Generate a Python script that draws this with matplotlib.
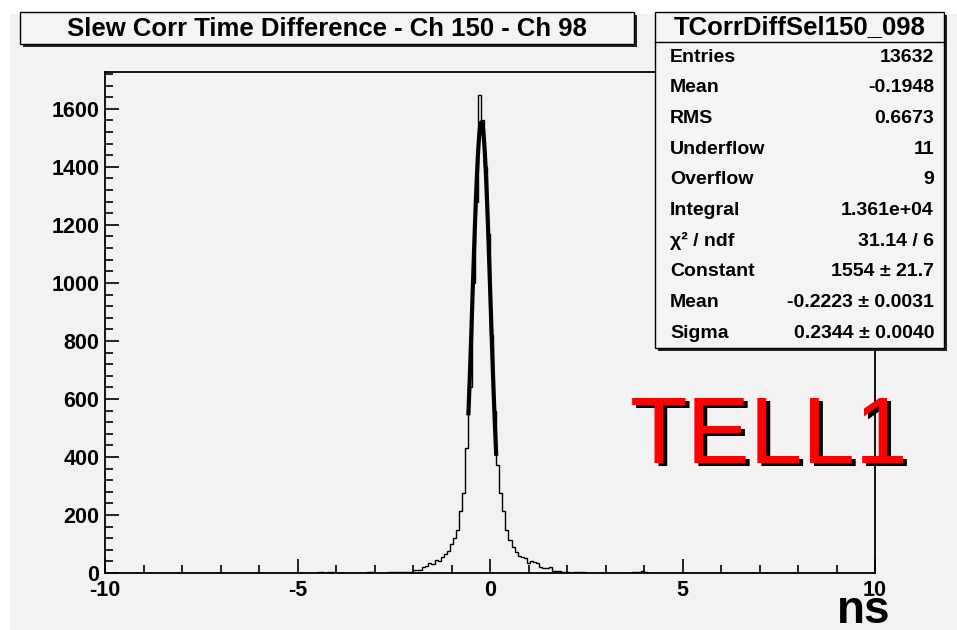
#!/usr/bin/env python3
"""Slew-corrected time difference histogram, Ch 150 - Ch 98, with Gaussian fit."""

import numpy as np
import matplotlib
matplotlib.use("Agg")
import matplotlib.pyplot as plt
from matplotlib.patches import Rectangle
from matplotlib.transforms import offset_copy

W, H = 957, 630

# histogram: 250 bins of 0.08 ns from -10 to 10; only non-empty bins listed
bin_centers = [
    -4.44, -4.36, -4.20, -4.12, -4.04, -3.16, -3.08,
    -2.60, -2.52, -2.44, -2.36, -2.28, -2.20, -2.12, -2.04, -1.96, -1.88, -1.80,
    -1.72, -1.64, -1.56, -1.48, -1.40, -1.32, -1.24, -1.16, -1.08, -1.00,
    -0.92, -0.84, -0.76, -0.68, -0.60, -0.52, -0.44, -0.36, -0.28, -0.20,
    -0.12, -0.04, 0.04, 0.12, 0.20, 0.28, 0.36, 0.44, 0.52, 0.60, 0.68,
    0.76, 0.84, 0.92, 1.00, 1.08, 1.16, 1.24, 1.32, 1.40, 1.48, 1.56,
    1.64, 1.72, 1.80, 1.88, 1.96, 2.04, 2.20, 2.28, 2.36, 2.44,
    3.72, 3.80, 3.88, 3.96, 4.04,
]
bin_counts = [
    2, 2, 2, 3, 4, 3, 5,
    3, 3, 2, 3, 3, 4, 5, 5, 10, 10, 12,
    22, 25, 35, 30, 45, 42, 55, 65, 75, 100,
    120, 148, 214, 275, 430, 640, 1000, 1280, 1648, 1560,
    1400, 1170, 820, 560, 372, 275, 212, 148, 114, 91, 74,
    59, 54, 50, 35, 40, 38, 33, 20, 16, 18, 20,
    8, 8, 6, 3, 5, 2, 3, 4, 2, 3,
    3, 4, 4, 6, 3,
]

# gaussian fit parameters (from the stats box) and fit range
fit_const, fit_mean, fit_sigma = 1554.0, -0.2223, 0.2344
fit_lo, fit_hi = -0.56, 0.16

stats_rows = [
    ("Entries", "13632"),
    ("Mean", "-0.1948"),
    ("RMS", "0.6673"),
    ("Underflow", "11"),
    ("Overflow", "9"),
    ("Integral", "1.361e+04"),
    ("χ² / ndf", "31.14 / 6"),
    ("Constant", "1554 ± 21.7"),
    ("Mean", "-0.2223 ± 0.0031"),
    ("Sigma", "0.2344 ± 0.0040"),
]


def fx(x):
    return x / W


def fy(y):
    return 1 - y / H


def box(fig, x0, y0, x1, y1, fc="#f4f4f4"):
    # ROOT style box with a dark drop shadow
    fig.patches.append(Rectangle((fx(x0 + 3), fy(y1 + 3)), fx(x1 - x0), (y1 - y0) / H,
                                 transform=fig.transFigure, fc="#222222", ec="none", zorder=5))
    fig.patches.append(Rectangle((fx(x0), fy(y1)), fx(x1 - x0), (y1 - y0) / H,
                                 transform=fig.transFigure, fc=fc, ec="black", lw=1.0, zorder=6))


plt.rcParams["font.family"] = ["Liberation Sans", "DejaVu Sans"]
plt.rcParams["axes.unicode_minus"] = False

fig = plt.figure(figsize=(W / 100, H / 100), dpi=100, facecolor="white")
fig.patches.append(Rectangle((fx(10), 0), fx(W - 10), fy(14), transform=fig.transFigure,
                             fc="#f2f2f2", ec="none", zorder=-1))

ax = fig.add_axes([fx(105), fy(573), fx(875 - 105), (573 - 72) / H])
ax.set_zorder(1)
ax.set_facecolor("#f2f2f2")

edges = np.round(np.arange(-10, 10.0001, 0.08), 4)
counts = np.zeros(len(edges) - 1)
for c, n in zip(bin_centers, bin_counts):
    counts[int(round((c - edges[0]) / 0.08 - 0.5))] = n
ax.stairs(counts, edges, color="black", lw=1.0)

xf = np.linspace(fit_lo, fit_hi, 100)
ax.plot(xf, fit_const * np.exp(-0.5 * ((xf - fit_mean) / fit_sigma) ** 2), color="black", lw=3.0)

ax.set_xlim(-10, 10)
ax.set_ylim(0, 1727)
ax.set_xticks([-10, -5, 0, 5, 10])
ax.set_xticks(np.arange(-10, 11, 1), minor=True)
ax.set_yticks(np.arange(0, 1601, 200))
ax.set_yticks(np.arange(0, 1727, 40), minor=True)
ax.tick_params(which="both", direction="in", top=False, right=False, width=1.2)
ax.tick_params(which="major", length=10)
ax.tick_params(which="minor", length=5.5)
ax.tick_params(axis="x", pad=5)
ax.tick_params(axis="y", pad=4)
for lab in ax.get_xticklabels() + ax.get_yticklabels():
    lab.set_fontsize(15.5)
    lab.set_fontweight("bold")
for s in ax.spines.values():
    s.set_linewidth(1.3)

# title box
box(fig, 20, 12, 634, 44)
fig.text(fx(327), fy(29), "Slew Corr Time Difference - Ch 150 - Ch 98", ha="center", va="center",
         fontsize=18.5, fontweight="bold", zorder=7)

# stats box
box(fig, 655, 12, 944, 348)
fig.lines.append(plt.Line2D([fx(655), fx(944)], [fy(42), fy(42)], transform=fig.transFigure,
                            color="black", lw=1.0, zorder=7))
fig.text(fx(800), fy(27), "TCorrDiffSel150_098", ha="center", va="center",
         fontsize=18.5, fontweight="bold", zorder=7)
for i, (k, v) in enumerate(stats_rows):
    y = fy(57 + i * 30.7)
    fig.text(fx(670), y, k, ha="left", va="center", fontsize=14, fontweight="bold", zorder=7)
    fig.text(fx(934), y, v, ha="right", va="center", fontsize=14, fontweight="bold", zorder=7)

# TELL1 label with shadow
tx, ty = fx(630), fy(463)
shadow = offset_copy(fig.transFigure, fig=fig, x=3.5, y=-3.5, units="dots")
fig.text(tx, ty, "TELL1", transform=shadow, ha="left", va="baseline", fontsize=68, color="black", zorder=8)
fig.text(tx, ty, "TELL1", ha="left", va="baseline", fontsize=68, color="#ff0000", zorder=9)

fig.text(fx(890), fy(623), "ns", ha="right", va="baseline", fontsize=33, fontweight="bold", zorder=7)

fig.savefig("out.png", dpi=100, facecolor=fig.get_facecolor())
